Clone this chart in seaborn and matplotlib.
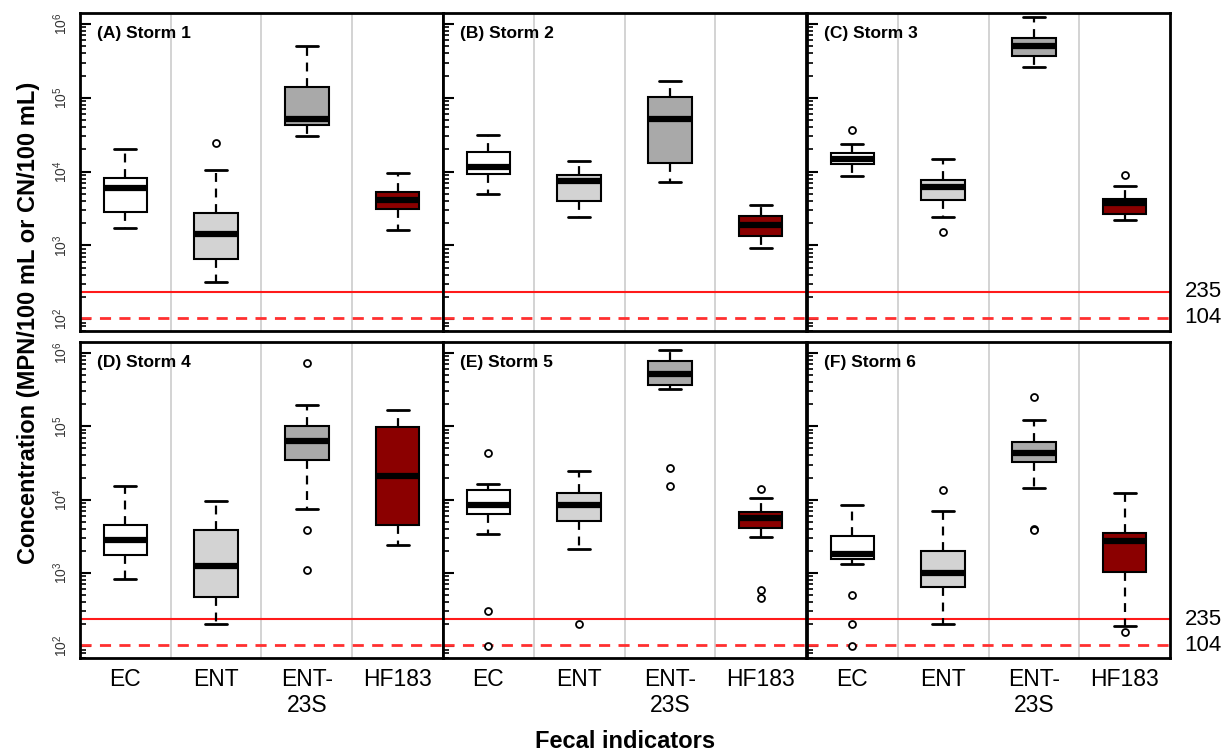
import numpy as np
import pandas as pd
import matplotlib
matplotlib.use('Agg')
import matplotlib.pyplot as plt
import matplotlib.ticker as mticker
import seaborn as sns

sns.set_style('white')
plt.rcParams['font.family'] = ['Liberation Sans', 'DejaVu Sans']
plt.rcParams['text.color'] = 'black'
plt.rcParams['xtick.color'] = 'black'
plt.rcParams['ytick.color'] = 'black'

# ================ data ================
storms = ['(A) Storm 1', '(B) Storm 2', '(C) Storm 3',
          '(D) Storm 4', '(E) Storm 5', '(F) Storm 6']
indicators = ['EC', 'ENT', 'ENT-23S', 'HF183']
tick_labels = ['EC', 'ENT', 'ENT-\n23S', 'HF183']
box_colors = ['#ffffff', '#d3d3d3', '#a9a9a9', '#8b0000']

# per indicator: [lower whisker, Q1, median, Q3, upper whisker]
storm1 = [[1700, 2850, 6000, 8200, 20400],
          [316, 650, 1410, 2740, 10500],
          [30000, 43000, 52000, 140000, 509000],
          [1610, 3160, 4100, 5300, 9700]]
storm2 = [[5000, 9200, 11700, 18500, 31000],
          [2450, 4050, 7400, 9100, 14000],
          [7300, 12900, 51000, 104000, 171000],
          [930, 1340, 1880, 2490, 3500]]
storm3 = [[8650, 12800, 14700, 17900, 23900],
          [2450, 4170, 6140, 7800, 14700],
          [260000, 372000, 509000, 653000, 1230000],
          [2200, 2650, 3700, 4230, 6300]]
storm4 = [[837, 1780, 2850, 4470, 15200],
          [202, 466, 1260, 3900, 9680],
          [7470, 35100, 62400, 100000, 197000],
          [2380, 4570, 20800, 98000, 169000]]
storm5 = [[3370, 6450, 8550, 13400, 16500],
          [2120, 5070, 8550, 12200, 24800],
          [323000, 370000, 517000, 785000, 1090000],
          [3100, 4150, 5620, 6790, 10500]]
storm6 = [[1330, 1550, 1840, 3230, 8550],
          [202, 638, 1000, 2020, 6920],
          [14300, 32700, 43300, 61100, 121000],
          [187, 1030, 2750, 3510, 12400]]

# outliers per indicator
out1 = [[], [24500], [], []]
out2 = [[], [], [], []]
out3 = [[37000], [1500], [], [8900]]
out4 = [[], [], [731000, 3800, 1090], []]
out5 = [[43300, 300, 102], [202], [27300, 15200], [13800, 593, 456]]
out6 = [[507, 202, 102], [13700], [251000, 4000, 3800], [157]]

std_limit = 235
geo_limit = 104

boxes = [storm1, storm2, storm3, storm4, storm5, storm6]
outs = [out1, out2, out3, out4, out5, out6]

rows = []
orows = []
for s, b, o in zip(storms, boxes, outs):
    for ind, vals, ovals in zip(indicators, b, o):
        for v in vals:
            rows.append({'storm': s, 'indicator': ind, 'value': v})
        for v in ovals:
            orows.append({'storm': s, 'indicator': ind, 'value': v})
df = pd.DataFrame(rows)
odf = pd.DataFrame(orows)

# ================ figure ================
W, H = 1232, 755
fig = plt.figure(figsize=(W / 100, H / 100), dpi=100)

lefts = [80, 443, 807]
pw = 363
row_px = [(13, 331), (342, 658)]

for i, s in enumerate(storms):
    r, c = divmod(i, 3)
    top, bot = row_px[r]
    ax = fig.add_axes([lefts[c] / W, 1 - bot / H, pw / W, (bot - top) / H])

    # separators and limit lines
    for xs in [0.5, 1.5, 2.5]:
        ax.axvline(xs, color='#cccccc', lw=1.2, zorder=0)
    ax.axhline(std_limit, color='#ff1a1a', lw=1.5, zorder=1)
    ax.axhline(geo_limit, color='#ff3030', lw=2, ls=(0, (4, 3)), zorder=1)

    sub = df[df['storm'] == s]
    sns.boxplot(data=sub, x='indicator', y='value', hue='indicator',
                order=indicators, hue_order=indicators, palette=box_colors,
                saturation=1, width=0.48, whis=(0, 100), showfliers=False,
                linecolor='black', linewidth=1.5, log_scale=True,
                legend=False, ax=ax,
                whiskerprops=dict(linestyle=(0, (4, 3)), linewidth=1.6),
                capprops=dict(linewidth=2),
                medianprops=dict(color='black', linewidth=4.5))

    osub = odf[odf['storm'] == s]
    if len(osub):
        sns.stripplot(data=osub, x='indicator', y='value', order=indicators,
                      jitter=False, color='white', edgecolor='black',
                      linewidth=1.3, size=5, ax=ax, zorder=5)

    ax.set_yscale('log')
    ax.set_xlim(-0.5, 3.5)
    ax.set_ylim(10 ** 1.84, 10 ** 6.15)
    ax.set_xlabel('')
    ax.set_ylabel('')

    ax.yaxis.set_major_locator(mticker.FixedLocator([1e2, 1e3, 1e4, 1e5, 1e6]))
    ax.yaxis.set_minor_locator(mticker.LogLocator(base=10, subs=np.arange(2, 10)))
    ax.yaxis.set_minor_formatter(mticker.NullFormatter())
    ax.tick_params(axis='y', which='major', direction='in', length=8,
                   width=1.5, left=True)
    ax.tick_params(axis='y', which='minor', direction='in', length=4,
                   width=1.2, left=True)
    if c == 0:
        ax.yaxis.set_major_formatter(mticker.LogFormatterSciNotation())
        ax.tick_params(axis='y', labelsize=10, labelcolor='#333333', pad=7)
        for lab in ax.get_yticklabels():
            lab.set_rotation(90)
            lab.set_va('center')
    else:
        ax.set_yticklabels([])

    ax.set_xticks(range(len(indicators)))
    if r == 1:
        ax.set_xticklabels(tick_labels, fontsize=16.5, linespacing=1.2)
        ax.tick_params(axis='x', length=0, pad=7)
    else:
        ax.set_xticklabels([])
        ax.tick_params(axis='x', length=0)

    for sp in ax.spines.values():
        sp.set_linewidth(2)
        sp.set_color('black')

    ax.text(0.048, 0.935, s, transform=ax.transAxes, fontsize=12.5,
            fontweight='bold', va='center', ha='left')

    if c == 2:
        tr = ax.get_yaxis_transform()
        ax.text(1.04, std_limit, str(std_limit), transform=tr, fontsize=16,
                va='center', ha='left', clip_on=False)
        ax.text(1.04, geo_limit, str(geo_limit), transform=tr, fontsize=16,
                va='center', ha='left', clip_on=False)

fig.text(0.023, 0.573, 'Concentration (MPN/100 mL or CN/100 mL)',
         rotation=90, fontsize=17, fontweight='bold', ha='center', va='center')
fig.text(0.507, 0.018, 'Fecal indicators', fontsize=17, fontweight='bold',
         ha='center', va='center')

fig.savefig('out.png', dpi=100)
